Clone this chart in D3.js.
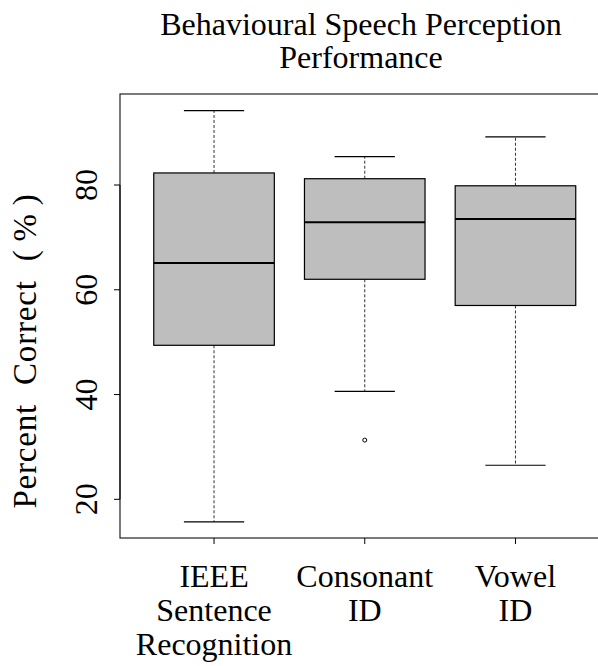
<!DOCTYPE html>
<html>
<head>
<meta charset="utf-8">
<script src="https://cdn.jsdelivr.net/npm/d3@7"></script>
<style>
  html, body { margin: 0; padding: 0; background: #fff; }
  svg { display: block; }
</style>
</head>
<body>
<svg id="chart" width="598" height="666"></svg>
<script>
// Task categories (multi-line axis labels)
const categories = [
  ["IEEE", "Sentence", "Recognition"],
  ["Consonant", "ID"],
  ["Vowel", "ID"]
];
// Five-number summaries per task: lower whisker, Q1, median, Q3, upper whisker
const lowerWhisker = [15.7, 40.6, 26.5];
const q1Values     = [49.4, 62.0, 57.0];
const medians      = [65.1, 72.9, 73.5];
const q3Values     = [82.3, 81.2, 79.85];
const upperWhisker = [94.2, 85.4, 89.2];
// Points beyond the whiskers: [category index, value]
const outliers = [[1, 31.3]];
const yTicks = [20, 40, 60, 80];
const title = ["Behavioural Speech Perception", "Performance"];
// y label pieces: the percent sign is set apart a little
const yLabelParts = ["Percent Correct (", "%", ")"];

const FONT = "'Liberation Serif', 'Times New Roman', Times, serif";
const FS = 32;

const svg = d3.select("#chart");

const plotLeft = 120, plotTop = 94, plotBottom = 538, plotRight = 609.5;
const x = d3.scaleLinear().domain([0.376, 3.624]).range([plotLeft, plotRight]);
const y = d3.scaleLinear().domain([20, 80]).range([499.3, 185]);

const boxHalf = 0.4, capHalf = 0.2;

const boxes = categories.map((c, i) => ({
  pos: i + 1,
  lo: lowerWhisker[i], q1: q1Values[i], med: medians[i], q3: q3Values[i], hi: upperWhisker[i]
}));

const g = svg.append("g");

// whiskers (dashed)
g.selectAll("line.wlo").data(boxes).join("line")
  .attr("x1", d => x(d.pos)).attr("x2", d => x(d.pos))
  .attr("y1", d => y(d.q1)).attr("y2", d => y(d.lo))
  .attr("stroke", "#333").attr("stroke-width", 1).attr("stroke-dasharray", "3,2");
g.selectAll("line.whi").data(boxes).join("line")
  .attr("x1", d => x(d.pos)).attr("x2", d => x(d.pos))
  .attr("y1", d => y(d.q3)).attr("y2", d => y(d.hi))
  .attr("stroke", "#333").attr("stroke-width", 1).attr("stroke-dasharray", "3,2");

// whisker caps
["lo", "hi"].forEach(k => {
  g.selectAll("line.cap" + k).data(boxes).join("line")
    .attr("x1", d => x(d.pos - capHalf)).attr("x2", d => x(d.pos + capHalf))
    .attr("y1", d => y(d[k])).attr("y2", d => y(d[k]))
    .attr("stroke", "#000").attr("stroke-width", 1.2);
});

// boxes
g.selectAll("rect.box").data(boxes).join("rect")
  .attr("x", d => x(d.pos - boxHalf))
  .attr("width", d => x(d.pos + boxHalf) - x(d.pos - boxHalf))
  .attr("y", d => y(d.q3))
  .attr("height", d => y(d.q1) - y(d.q3))
  .attr("fill", "#bebebe").attr("stroke", "#000").attr("stroke-width", 1.2);

// medians
g.selectAll("line.med").data(boxes).join("line")
  .attr("x1", d => x(d.pos - boxHalf)).attr("x2", d => x(d.pos + boxHalf))
  .attr("y1", d => y(d.med)).attr("y2", d => y(d.med))
  .attr("stroke", "#000").attr("stroke-width", 2);

// outliers
g.selectAll("circle.out").data(outliers).join("circle")
  .attr("cx", d => x(d[0] + 1)).attr("cy", d => y(d[1]))
  .attr("r", 2).attr("fill", "none").attr("stroke", "#000").attr("stroke-width", 1);

// plot frame
svg.append("rect")
  .attr("x", plotLeft).attr("y", plotTop)
  .attr("width", plotRight - plotLeft).attr("height", plotBottom - plotTop)
  .attr("fill", "none").attr("stroke", "#222").attr("stroke-width", 1.2);

// y axis
const yAxis = svg.append("g");
yAxis.append("line")
  .attr("x1", plotLeft).attr("x2", plotLeft)
  .attr("y1", y(20)).attr("y2", y(80)).attr("stroke", "#000");
yAxis.selectAll("line.tick").data(yTicks).join("line")
  .attr("x1", plotLeft).attr("x2", plotLeft - 6)
  .attr("y1", d => y(d)).attr("y2", d => y(d)).attr("stroke", "#000");
yAxis.selectAll("text").data(yTicks).join("text")
  .attr("transform", d => `translate(97,${y(d)}) rotate(-90)`)
  .attr("text-anchor", "middle")
  .attr("font-family", FONT)
  .attr("font-size", FS)
  .attr("fill", "#000")
  .text(d => d);

// x axis
const xAxis = svg.append("g");
xAxis.selectAll("line.tick").data(boxes).join("line")
  .attr("x1", d => x(d.pos)).attr("x2", d => x(d.pos))
  .attr("y1", plotBottom).attr("y2", plotBottom + 6).attr("stroke", "#000");
const xl = xAxis.selectAll("text").data(categories).join("text")
  .attr("text-anchor", "middle")
  .attr("font-family", FONT)
  .attr("font-size", FS)
  .attr("fill", "#000")
  .attr("transform", (d, i) => `translate(${x(i + 1)},586.7)`);
xl.selectAll("tspan").data(d => d).join("tspan")
  .attr("x", 0).attr("y", (d, j) => j * 34)
  .text(d => d);

// y label
svg.append("text")
  .attr("transform", `translate(36,351) rotate(-90)`)
  .attr("text-anchor", "middle")
  .attr("font-family", FONT)
  .attr("font-size", 33)
  .attr("letter-spacing", 0.8)
  .attr("word-spacing", 10)
  .attr("fill", "#000")
  .selectAll("tspan").data(yLabelParts).join("tspan")
  .attr("dx", (d, i) => i === 0 ? 0 : 8)
  .text(d => d);

// title
svg.append("text")
  .attr("text-anchor", "middle")
  .attr("font-family", FONT)
  .attr("font-size", FS)
  .attr("fill", "#000")
  .selectAll("tspan").data(title).join("tspan")
  .attr("x", 361).attr("y", (d, j) => 35 + j * 33.3)
  .text(d => d);
</script>
</body>
</html>
